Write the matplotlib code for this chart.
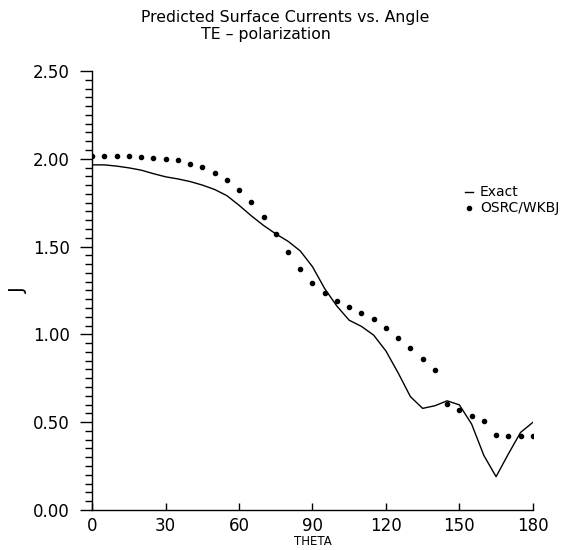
import matplotlib
matplotlib.use("Agg")
import matplotlib.pyplot as plt
from matplotlib.ticker import MultipleLocator, FormatStrFormatter

# Exact solution (solid line)
theta_exact = [0, 5, 10, 15, 20, 25, 30, 35, 40, 45, 50, 55, 60, 65, 70, 75, 80, 85, 90,
               95, 100, 105, 110, 115, 120, 125, 130, 135, 140, 145, 150, 155, 160, 165,
               170, 175, 180]
j_exact = [1.965, 1.965, 1.958, 1.948, 1.935, 1.915, 1.897, 1.885, 1.870, 1.850, 1.825,
           1.790, 1.735, 1.675, 1.620, 1.572, 1.530, 1.475, 1.385, 1.260, 1.160, 1.080,
           1.045, 0.995, 0.905, 0.780, 0.645, 0.578, 0.593, 0.621, 0.598, 0.489, 0.310,
           0.189, 0.318, 0.441, 0.498]

# OSRC/WKBJ (dots)
theta_osrc = list(range(0, 181, 5))
j_osrc = [2.014, 2.014, 2.014, 2.016, 2.008, 2.004, 2.000, 1.990, 1.970, 1.953, 1.920,
          1.879, 1.824, 1.752, 1.666, 1.570, 1.467, 1.373, 1.291, 1.233, 1.189, 1.157,
          1.123, 1.085, 1.036, 0.981, 0.920, 0.858, 0.797, 0.601, 0.568, 0.536, 0.506,
          0.426, 0.422, 0.420, 0.419]

x_ticks = [0, 30, 60, 90, 120, 150, 180]

fig = plt.figure(figsize=(5.76, 5.5), dpi=100)
ax = fig.add_axes([0.16, 0.073, 0.765, 0.798])

ax.plot(theta_exact, j_exact, color='black', lw=1.0, label='Exact')
ax.plot(theta_osrc, j_osrc, linestyle='none', marker='o', markersize=3.0,
        color='black', label='OSRC/WKBJ')

ax.set_xlim(0, 180)
ax.set_ylim(0, 2.5)
ax.set_xticks(x_ticks)
ax.yaxis.set_major_locator(MultipleLocator(0.5))
ax.yaxis.set_minor_locator(MultipleLocator(0.05))
ax.yaxis.set_major_formatter(FormatStrFormatter('%.2f'))

for s in ['top', 'right']:
    ax.spines[s].set_visible(False)
ax.spines['left'].set_linewidth(1.0)
ax.spines['bottom'].set_linewidth(1.0)

ax.tick_params(axis='y', which='major', direction='out', length=9, width=1.0,
               labelsize=12, pad=7)
ax.tick_params(axis='y', which='minor', direction='out', length=5, width=1.0)
ax.tick_params(axis='x', which='major', direction='in', length=5, width=1.0,
               labelsize=12, pad=5)

ax.set_xlabel('THETA', fontsize=8.5, labelpad=0)
ax.set_ylabel('J', fontsize=14)
ax.yaxis.set_label_coords(-0.145, 0.5)

fig.text(0.495, 0.968, 'Predicted Surface Currents vs. Angle', ha='center', va='center',
         fontsize=11.3)
fig.text(0.462, 0.938, 'TE \u2013 polarization', ha='center', va='center', fontsize=11.3)

ax.legend(loc='center left', bbox_to_anchor=(0.83, 0.705), frameon=False,
          handlelength=0.6, handletextpad=0.5, fontsize=10, labelspacing=0.15,
          borderpad=0)

fig.savefig('out.png', dpi=100)
